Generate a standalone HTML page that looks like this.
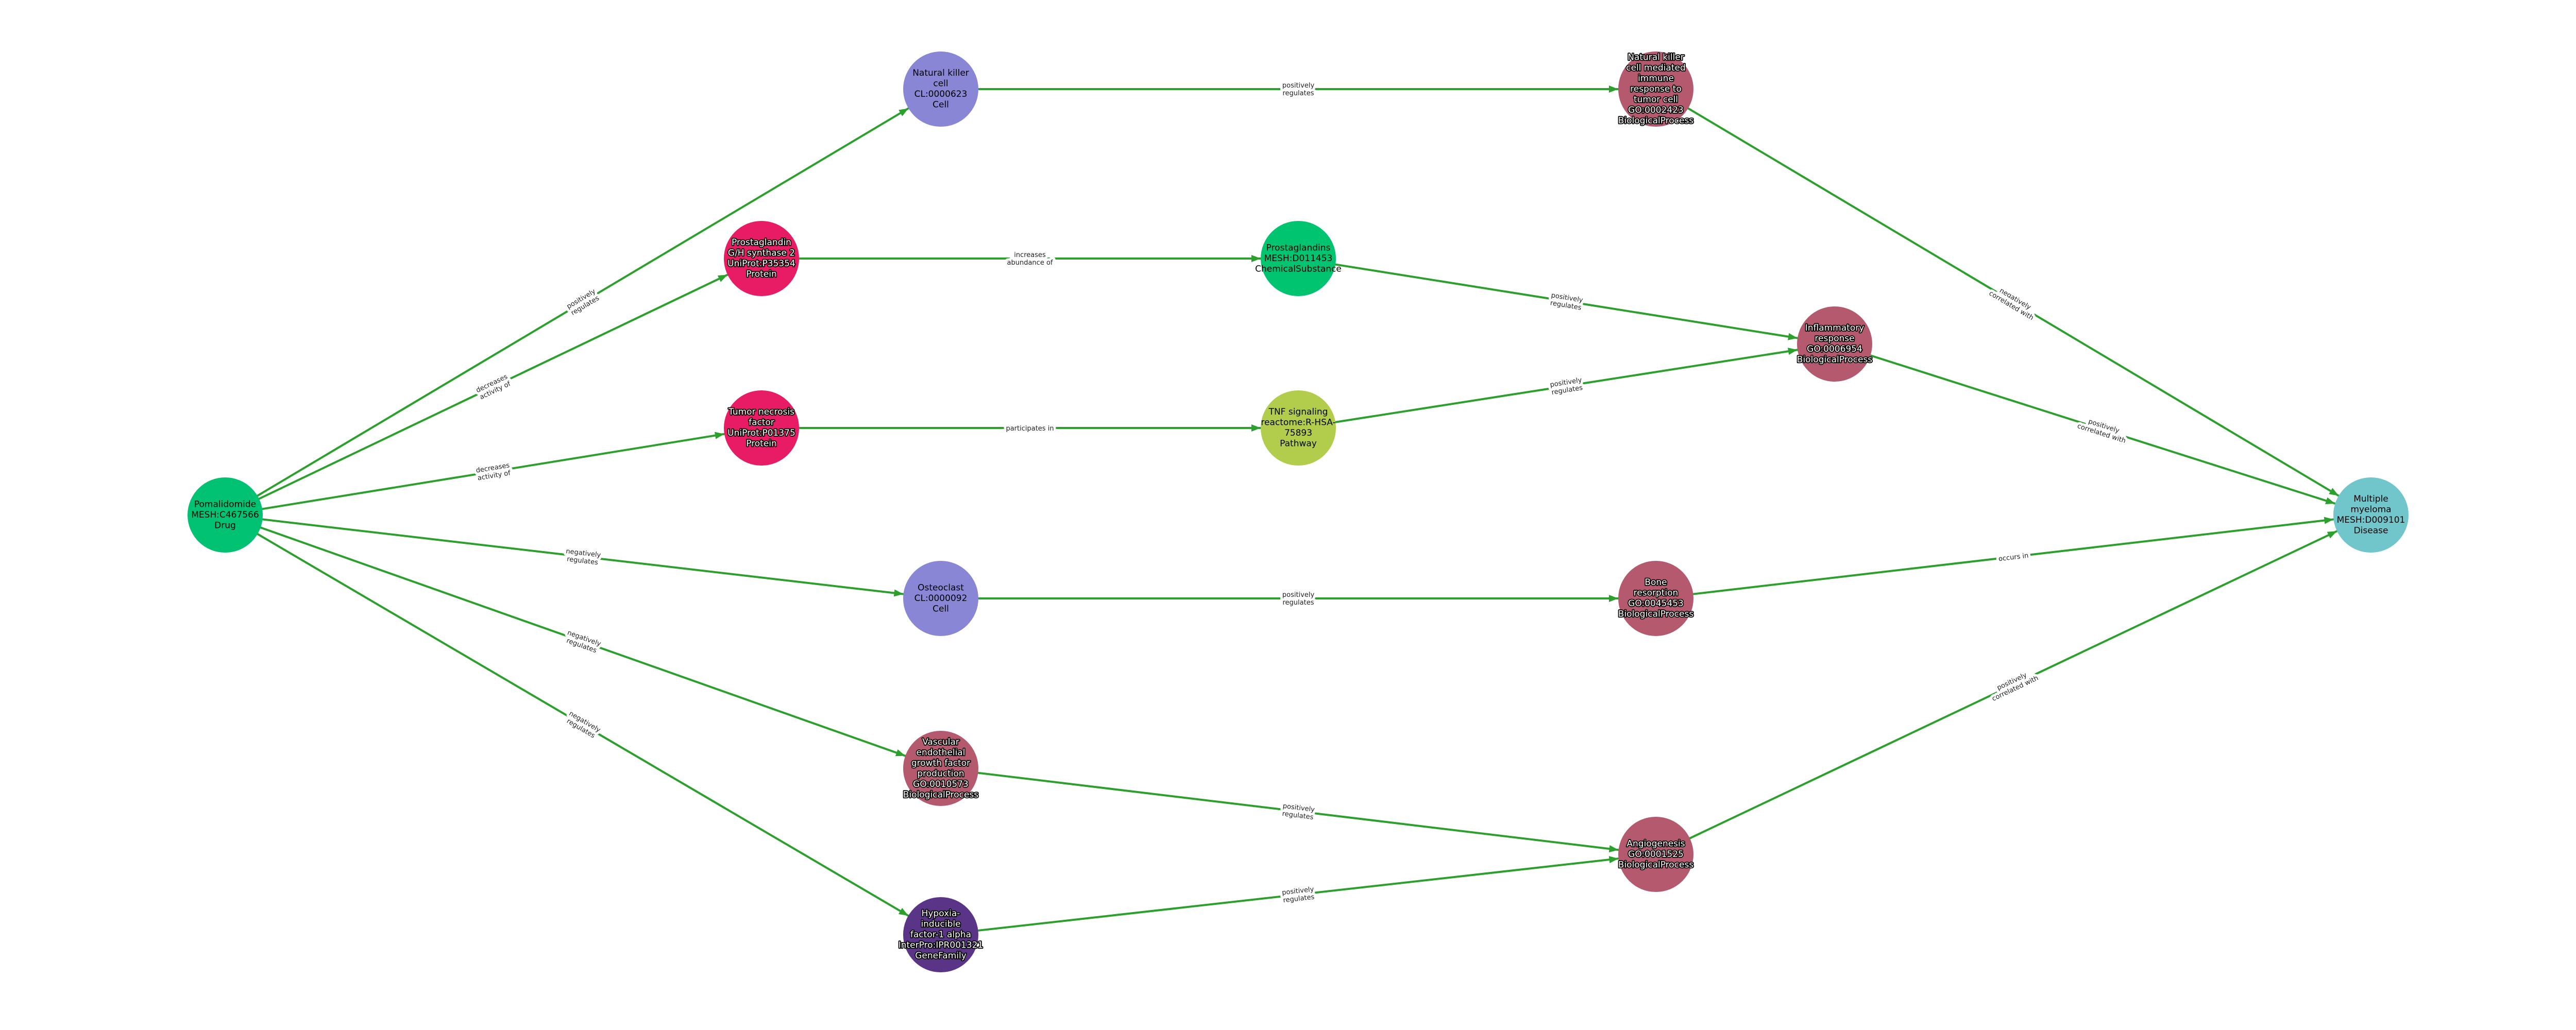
<!DOCTYPE html>
<html><head><meta charset="utf-8"><style>
html,body{margin:0;padding:0;background:#fff;}
svg{display:block;}
.e{stroke:#2ca02c;stroke-width:4;fill:none;}
.el{font-family:"DejaVu Sans","Liberation Sans",sans-serif;font-size:13px;fill:#222;stroke:#fff;stroke-width:10;paint-order:stroke;stroke-linejoin:round;text-anchor:middle;}
.nt{font-family:"DejaVu Sans","Liberation Sans",sans-serif;font-size:17px;text-anchor:middle;dominant-baseline:central;}
.b{fill:#000;}
.h{fill:#fff;stroke:#000;stroke-width:3.5;paint-order:stroke;stroke-linejoin:round;}
</style></head><body>
<svg width="5040" height="2000" viewBox="0 0 5040 2000" xmlns="http://www.w3.org/2000/svg">
<defs>
<marker id="a" markerUnits="userSpaceOnUse" markerWidth="200" markerHeight="40" viewBox="-100 -20 200 40" refX="73" refY="0" orient="auto" overflow="visible">
<path d="M0,0 L-18,-7 L-18,7 Z" fill="#2ca02c"/>
</marker>
</defs>
<g marker-end="url(#a)">
<line class="e" x1="437" y1="1000" x2="1826" y2="173"/>
<line class="e" x1="437" y1="1000" x2="1478" y2="502"/>
<line class="e" x1="437" y1="1000" x2="1478" y2="831"/>
<line class="e" x1="437" y1="1000" x2="1826" y2="1162"/>
<line class="e" x1="437" y1="1000" x2="1826" y2="1492"/>
<line class="e" x1="437" y1="1000" x2="1826" y2="1815"/>
<line class="e" x1="1826" y1="173" x2="3214" y2="173"/>
<line class="e" x1="1478" y1="502" x2="2520" y2="502"/>
<line class="e" x1="1478" y1="831" x2="2520" y2="831"/>
<line class="e" x1="1826" y1="1162" x2="3214" y2="1162"/>
<line class="e" x1="1826" y1="1492" x2="3214" y2="1659"/>
<line class="e" x1="1826" y1="1815" x2="3214" y2="1659"/>
<line class="e" x1="2520" y1="502" x2="3561" y2="668"/>
<line class="e" x1="2520" y1="831" x2="3561" y2="668"/>
<line class="e" x1="3214" y1="173" x2="4602" y2="1000"/>
<line class="e" x1="3561" y1="668" x2="4602" y2="1000"/>
<line class="e" x1="3214" y1="1162" x2="4602" y2="1000"/>
<line class="e" x1="3214" y1="1659" x2="4602" y2="1000"/>
</g>
<g>
<text class="el" transform="translate(1131.5,586.5) rotate(-30.8)"><tspan x="0" y="-3">positively</tspan><tspan x="0" y="12">regulates</tspan></text>
<text class="el" transform="translate(957.5,751) rotate(-25.6)"><tspan x="0" y="-3">decreases</tspan><tspan x="0" y="12">activity of</tspan></text>
<text class="el" transform="translate(957.5,915.5) rotate(-9.2)"><tspan x="0" y="-3">decreases</tspan><tspan x="0" y="12">activity of</tspan></text>
<text class="el" transform="translate(1131.5,1081) rotate(6.65)"><tspan x="0" y="-3">negatively</tspan><tspan x="0" y="12">regulates</tspan></text>
<text class="el" transform="translate(1131.5,1246) rotate(19.5)"><tspan x="0" y="-3">negatively</tspan><tspan x="0" y="12">regulates</tspan></text>
<text class="el" transform="translate(1131.5,1407.5) rotate(30.4)"><tspan x="0" y="-3">negatively</tspan><tspan x="0" y="12">regulates</tspan></text>
<text class="el" transform="translate(2520,173)"><tspan x="0" y="-3">positively</tspan><tspan x="0" y="12">regulates</tspan></text>
<text class="el" transform="translate(1999,502)"><tspan x="0" y="-3">increases</tspan><tspan x="0" y="12">abundance of</tspan></text>
<text class="el" transform="translate(1999,831)"><tspan x="0" y="5">participates in</tspan></text>
<text class="el" transform="translate(2520,1162)"><tspan x="0" y="-3">positively</tspan><tspan x="0" y="12">regulates</tspan></text>
<text class="el" transform="translate(2520,1575.5) rotate(6.86)"><tspan x="0" y="-3">positively</tspan><tspan x="0" y="12">regulates</tspan></text>
<text class="el" transform="translate(2520,1737) rotate(-6.4)"><tspan x="0" y="-3">positively</tspan><tspan x="0" y="12">regulates</tspan></text>
<text class="el" transform="translate(3040.5,585) rotate(9.06)"><tspan x="0" y="-3">positively</tspan><tspan x="0" y="12">regulates</tspan></text>
<text class="el" transform="translate(3040.5,749.5) rotate(-8.9)"><tspan x="0" y="-3">positively</tspan><tspan x="0" y="12">regulates</tspan></text>
<text class="el" transform="translate(3908,586.5) rotate(30.8)"><tspan x="0" y="-3">negatively</tspan><tspan x="0" y="12">correlated with</tspan></text>
<text class="el" transform="translate(4081.5,834) rotate(17.7)"><tspan x="0" y="-3">positively</tspan><tspan x="0" y="12">correlated with</tspan></text>
<text class="el" transform="translate(3908,1081) rotate(-6.66)"><tspan x="0" y="5">occurs in</tspan></text>
<text class="el" transform="translate(3908,1329.5) rotate(-25.4)"><tspan x="0" y="-3">positively</tspan><tspan x="0" y="12">correlated with</tspan></text>
</g>
<g>
<circle cx="437" cy="1000" r="73" fill="#00c272"/>
<circle cx="1826" cy="173" r="73" fill="#8a86d6"/>
<circle cx="1478" cy="502" r="73" fill="#e71c64"/>
<circle cx="1478" cy="831" r="73" fill="#e71c64"/>
<circle cx="1826" cy="1162" r="73" fill="#8a86d6"/>
<circle cx="1826" cy="1492" r="73" fill="#b5596e"/>
<circle cx="1826" cy="1815" r="73" fill="#5a3486"/>
<circle cx="2520" cy="502" r="73" fill="#00c470"/>
<circle cx="2520" cy="831" r="73" fill="#b1cd4b"/>
<circle cx="3214" cy="173" r="73" fill="#b5596e"/>
<circle cx="3561" cy="668" r="73" fill="#b5596e"/>
<circle cx="3214" cy="1162" r="73" fill="#b5596e"/>
<circle cx="3214" cy="1659" r="73" fill="#b5596e"/>
<circle cx="4602" cy="1000" r="73" fill="#71c6cc"/>
</g>
<g>
<text class="nt b"><tspan x="437" y="979.5">Pomalidomide</tspan><tspan x="437" y="1000">MESH:C467566</tspan><tspan x="437" y="1020.5">Drug</tspan></text>
<text class="nt b"><tspan x="1826" y="142">Natural killer</tspan><tspan x="1826" y="162.5">cell</tspan><tspan x="1826" y="183">CL:0000623</tspan><tspan x="1826" y="203.5">Cell</tspan></text>
<text class="nt h"><tspan x="1478" y="471">Prostaglandin</tspan><tspan x="1478" y="491.5">G/H synthase 2</tspan><tspan x="1478" y="512">UniProt:P35354</tspan><tspan x="1478" y="532.5">Protein</tspan></text>
<text class="nt h"><tspan x="1478" y="800">Tumor necrosis</tspan><tspan x="1478" y="820.5">factor</tspan><tspan x="1478" y="841">UniProt:P01375</tspan><tspan x="1478" y="861.5">Protein</tspan></text>
<text class="nt b"><tspan x="1826" y="1141.5">Osteoclast</tspan><tspan x="1826" y="1162">CL:0000092</tspan><tspan x="1826" y="1182.5">Cell</tspan></text>
<text class="nt h"><tspan x="1826" y="1441">Vascular</tspan><tspan x="1826" y="1461.5">endothelial</tspan><tspan x="1826" y="1482">growth factor</tspan><tspan x="1826" y="1502.5">production</tspan><tspan x="1826" y="1523">GO:0010573</tspan><tspan x="1826" y="1543.5">BiologicalProcess</tspan></text>
<text class="nt h"><tspan x="1826" y="1774">Hypoxia-</tspan><tspan x="1826" y="1794.5">inducible</tspan><tspan x="1826" y="1815">factor-1 alpha</tspan><tspan x="1826" y="1835.5">InterPro:IPR001321</tspan><tspan x="1826" y="1856">GeneFamily</tspan></text>
<text class="nt b"><tspan x="2520" y="481.5">Prostaglandins</tspan><tspan x="2520" y="502">MESH:D011453</tspan><tspan x="2520" y="522.5">ChemicalSubstance</tspan></text>
<text class="nt b"><tspan x="2520" y="800">TNF signaling</tspan><tspan x="2520" y="820.5">reactome:R-HSA-</tspan><tspan x="2520" y="841">75893</tspan><tspan x="2520" y="861.5">Pathway</tspan></text>
<text class="nt h"><tspan x="3214" y="111.5">Natural killer</tspan><tspan x="3214" y="132">cell mediated</tspan><tspan x="3214" y="152.5">immune</tspan><tspan x="3214" y="173">response to</tspan><tspan x="3214" y="193.5">tumor cell</tspan><tspan x="3214" y="214">GO:0002423</tspan><tspan x="3214" y="234.5">BiologicalProcess</tspan></text>
<text class="nt h"><tspan x="3561" y="637">Inflammatory</tspan><tspan x="3561" y="657.5">response</tspan><tspan x="3561" y="678">GO:0006954</tspan><tspan x="3561" y="698.5">BiologicalProcess</tspan></text>
<text class="nt h"><tspan x="3214" y="1131">Bone</tspan><tspan x="3214" y="1151.5">resorption</tspan><tspan x="3214" y="1172">GO:0045453</tspan><tspan x="3214" y="1192.5">BiologicalProcess</tspan></text>
<text class="nt h"><tspan x="3214" y="1638.5">Angiogenesis</tspan><tspan x="3214" y="1659">GO:0001525</tspan><tspan x="3214" y="1679.5">BiologicalProcess</tspan></text>
<text class="nt b"><tspan x="4602" y="969">Multiple</tspan><tspan x="4602" y="989.5">myeloma</tspan><tspan x="4602" y="1010">MESH:D009101</tspan><tspan x="4602" y="1030.5">Disease</tspan></text>
</g>
</svg>
</body></html>
